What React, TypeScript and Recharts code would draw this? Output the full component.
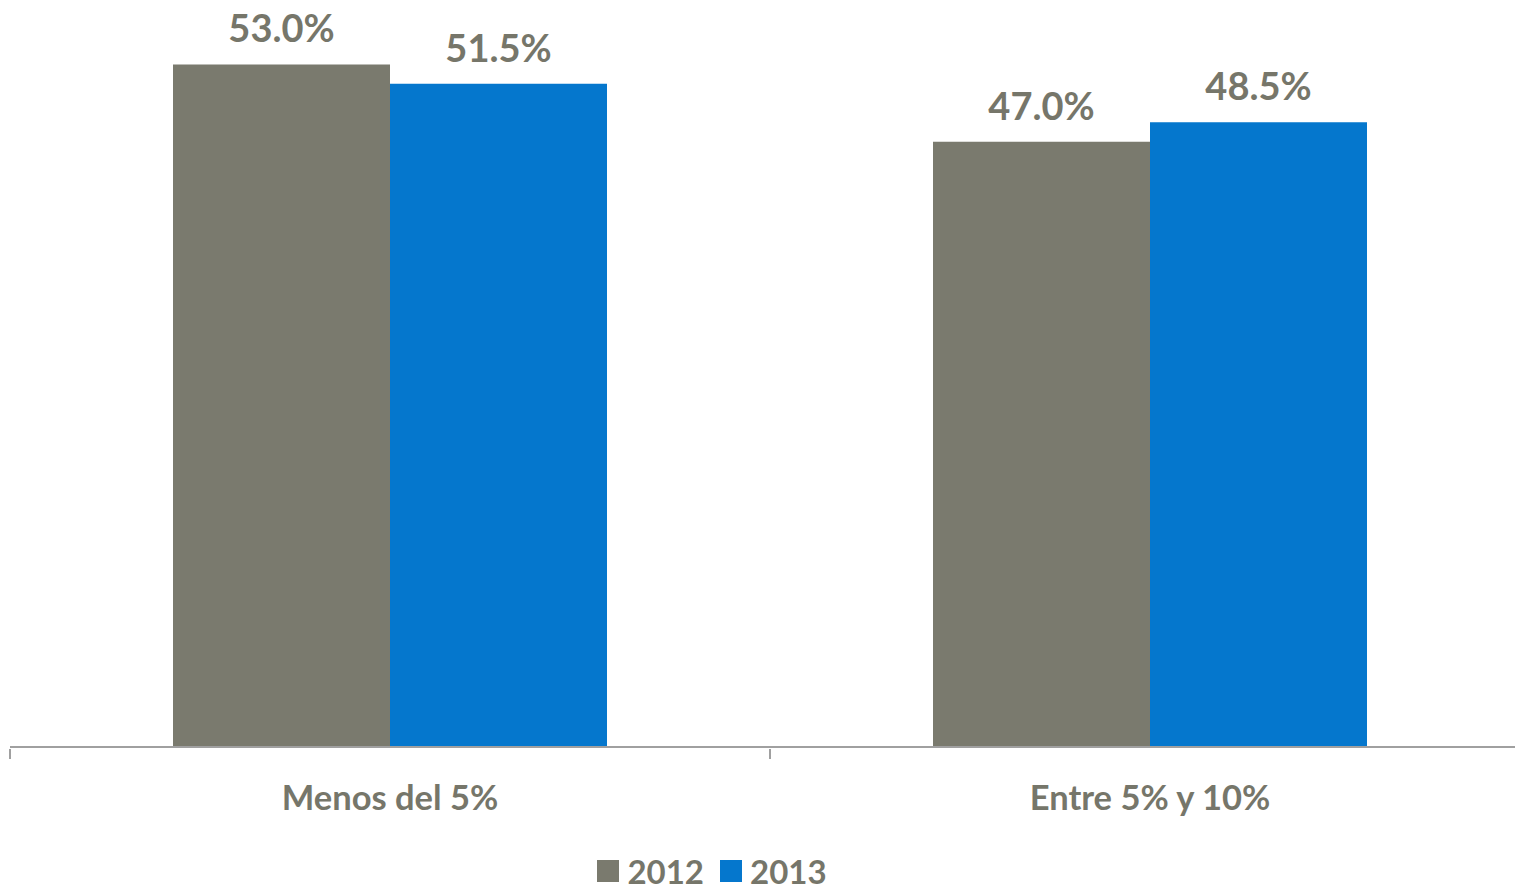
import { Bar, BarChart, LabelList, Legend, XAxis, YAxis } from "recharts";

const categories = ["Menos del 5%", "Entre 5% y 10%"];
const values2012 = [53.0, 47.0];
const values2013 = [51.5, 48.5];
const seriesNames = ["2012", "2013"];

const GRAY = "#7a7a6e";
const BLUE = "#0577cd";
const TEXT = "#76766a";
const FONT = "Lato, 'Open Sans', sans-serif";

const data = categories.map((name, i) => ({
  name,
  y2012: values2012[i],
  y2013: values2013[i],
}));

// width of one category band, used only to put the tick at its left edge
const BAND = 760;

const CategoryTick = (props: any) => {
  const { x, y, payload } = props;
  return (
    <g>
      <line x1={x - BAND / 2} x2={x - BAND / 2} y1={y - 6} y2={y + 4} stroke="#a0a0a0" strokeWidth={2} />
      <text
        x={x}
        y={y + 55}
        textAnchor="middle"
        fill={TEXT}
        fontFamily={FONT}
        fontWeight={700}
        fontSize={34.5}
      >
        {payload.value}
      </text>
    </g>
  );
};

const LegendContent = () => (
  <div
    style={{
      display: "flex",
      justifyContent: "center",
      alignItems: "center",
      paddingRight: 100,
      paddingTop: 26,
      fontFamily: FONT,
      fontWeight: 700,
      fontSize: 33,
      lineHeight: "36px",
      color: TEXT,
    }}
  >
    {seriesNames.map((s, i) => (
      <span key={s} style={{ display: "flex", alignItems: "center", marginRight: 16 }}>
        <span
          style={{
            display: "inline-block",
            width: 22,
            height: 22,
            background: i === 0 ? GRAY : BLUE,
            marginRight: 8,
          }}
        />
        {s}
      </span>
    ))}
  </div>
);

const fmt = (v: any) => `${Number(v).toFixed(1)}%`;

export default function App() {
  return (
    <div
      style={{
        position: "absolute",
        left: 0,
        top: 0,
        width: 1515,
        height: 892,
        overflow: "hidden",
        background: "#fff",
      }}
    >
      <BarChart
        width={1530}
        height={892}
        data={data}
        margin={{ top: 0, right: 0, left: 10, bottom: 0 }}
        barCategoryGap={163}
        barGap={0}
      >
        <XAxis
          dataKey="name"
          height={80}
          axisLine={{ stroke: "#a0a0a0", strokeWidth: 2 }}
          tickLine={false}
          tick={<CategoryTick />}
          interval={0}
        />
        <YAxis hide domain={[0, 58]} />
        <Legend verticalAlign="bottom" height={65} content={<LegendContent />} />
        <Bar dataKey="y2012" name="2012" fill={GRAY} isAnimationActive={false}>
          <LabelList
            dataKey="y2012"
            position="top"
            offset={22}
            formatter={fmt}
            fill={TEXT}
            fontFamily={FONT}
            fontWeight={700}
            fontSize={38}
          />
        </Bar>
        <Bar dataKey="y2013" name="2013" fill={BLUE} isAnimationActive={false}>
          <LabelList
            dataKey="y2013"
            position="top"
            offset={22}
            formatter={fmt}
            fill={TEXT}
            fontFamily={FONT}
            fontWeight={700}
            fontSize={38}
          />
        </Bar>
      </BarChart>
    </div>
  );
}
